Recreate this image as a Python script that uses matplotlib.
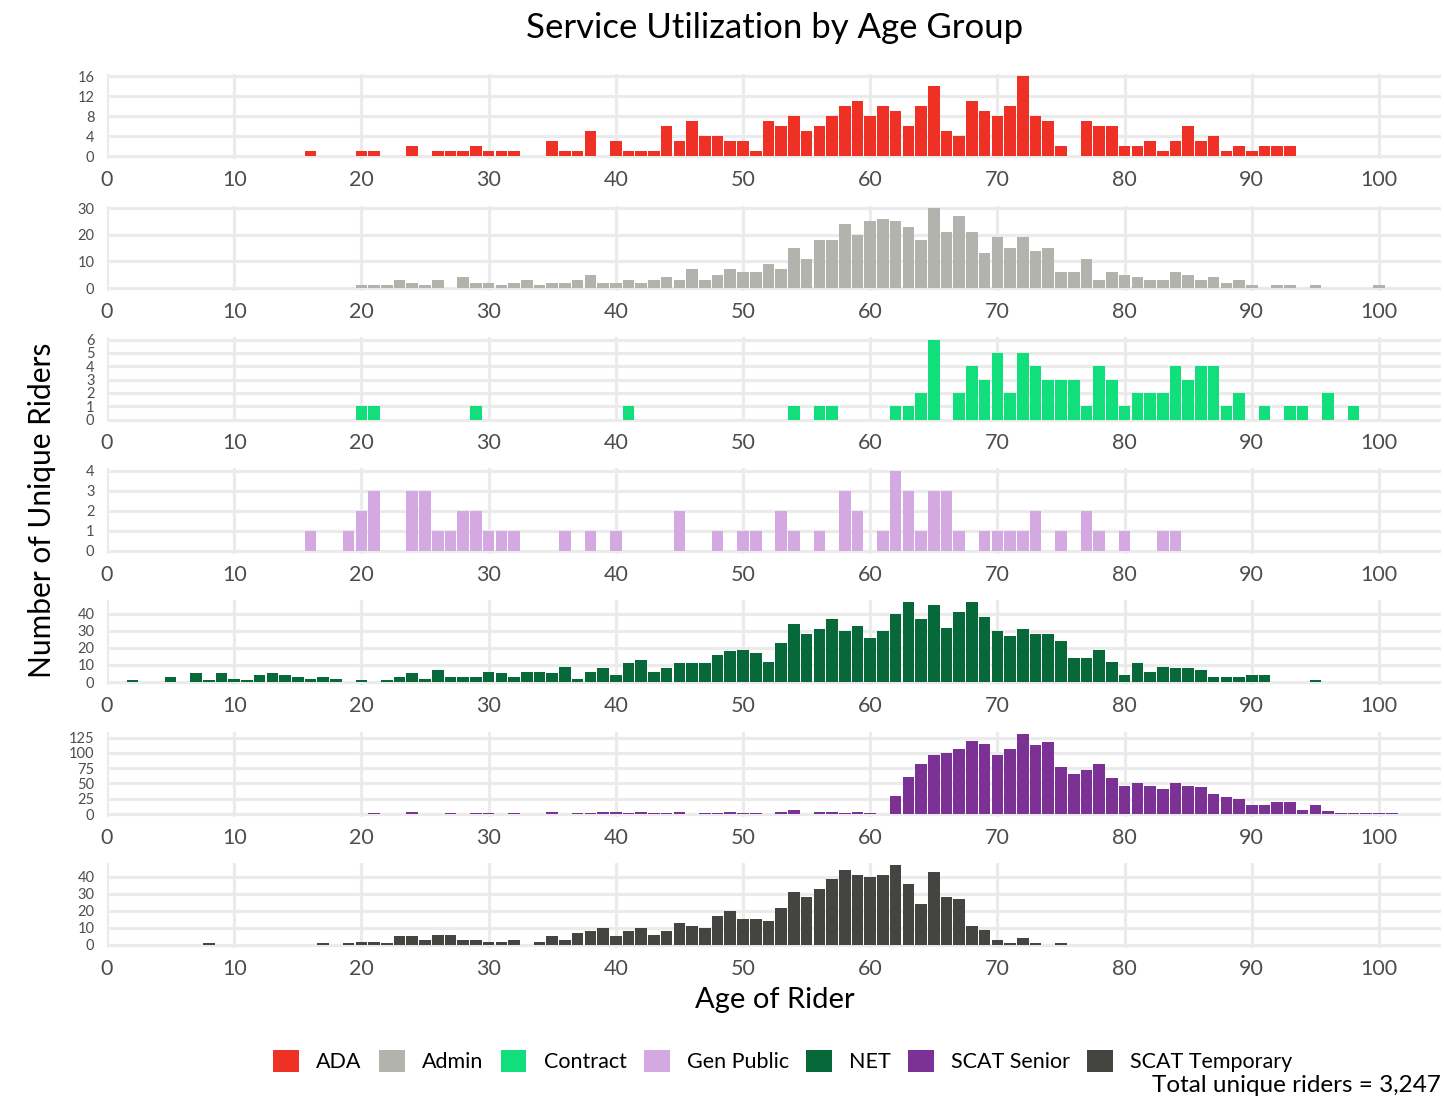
import matplotlib
matplotlib.use("Agg")
import matplotlib.pyplot as plt
from matplotlib.patches import Patch

plt.rcParams['font.family'] = ['Lato', 'DejaVu Sans']

# ---- data: unique riders per age, one pair of lists per service type ----
groups = ["ADA", "Admin", "Contract", "Gen Public", "NET", "SCAT Senior", "SCAT Temporary"]
colors = ["#EE3124", "#B3B3AD", "#11DF7B", "#D4A8E0", "#07693A", "#7B3294", "#444440"]

ada_ages = [16, 20, 21, 24, 26, 27, 28, 29, 30, 31, 32, 35, 36, 37, 38,
            40, 41, 42, 43, 44, 45, 46, 47, 48, 49, 50, 51, 52, 53, 54, 55, 56, 57,
            58, 59, 60, 61, 62, 63, 64, 65, 66, 67, 68, 69, 70, 71, 72, 73, 74, 75,
            77, 78, 79, 80, 81, 82, 83, 84, 85, 86, 87, 88, 89, 90, 91, 92, 93]
ada_riders = [1, 1, 1, 2, 1, 1, 1, 2, 1, 1, 1, 3, 1, 1, 5,
              3, 1, 1, 1, 6, 3, 7, 4, 4, 3, 3, 1, 7, 6, 8, 5, 6, 8,
              10, 11, 8, 10, 9, 6, 10, 14, 5, 4, 11, 9, 8, 10, 16, 8, 7, 2,
              7, 6, 6, 2, 2, 3, 1, 3, 6, 3, 4, 1, 2, 1, 2, 2, 2]

admin_ages = [20, 21, 22, 23, 24, 25, 26,
              28, 29, 30, 31, 32, 33, 34, 35, 36, 37,
              38, 39, 40, 41, 42, 43, 44, 45, 46, 47,
              48, 49, 50, 51, 52, 53, 54, 55, 56, 57,
              58, 59, 60, 61, 62, 63, 64, 65, 66, 67,
              68, 69, 70, 71, 72, 73, 74, 75, 76, 77,
              78, 79, 80, 81, 82, 83, 84, 85, 86, 87,
              88, 89, 90, 92, 93, 95, 100]
admin_riders = [1, 1, 1, 3, 2, 1, 3,
                4, 2, 2, 1, 2, 3, 1, 2, 2, 3,
                5, 2, 2, 3, 2, 3, 4, 3, 7, 3,
                5, 7, 6, 6, 9, 7, 15, 11, 18, 18,
                24, 20, 25, 26, 25, 23, 18, 30, 21, 27,
                21, 13, 19, 15, 19, 14, 15, 6, 6, 11,
                3, 6, 5, 4, 3, 3, 6, 5, 3, 4,
                2, 3, 1, 1, 1, 1, 1]

contract_ages = [20, 21, 29, 41, 54, 56, 57, 62, 63, 64, 65,
                 67, 68, 69, 70, 71, 72, 73, 74, 75, 76, 77, 78,
                 79, 80, 81, 82, 83, 84, 85, 86, 87, 88, 89,
                 91, 93, 94, 96, 98]
contract_riders = [1, 1, 1, 1, 1, 1, 1, 1, 1, 2, 6,
                   2, 4, 3, 5, 2, 5, 4, 3, 3, 3, 1, 4,
                   3, 1, 2, 2, 2, 4, 3, 4, 4, 1, 2,
                   1, 1, 1, 2, 1]

genpub_ages = [16, 19, 20, 21, 24, 25, 26, 27, 28, 29, 30, 31, 32,
               36, 38, 40, 45, 48, 50, 51, 53, 54, 56, 58, 59,
               61, 62, 63, 64, 65, 66, 67, 69, 70, 71, 72, 73,
               75, 77, 78, 80, 83, 84]
genpub_riders = [1, 1, 2, 3, 3, 3, 1, 1, 2, 2, 1, 1, 1,
                 1, 1, 1, 2, 1, 1, 1, 2, 1, 1, 3, 2,
                 1, 4, 3, 1, 3, 3, 1, 1, 1, 1, 1, 2,
                 1, 2, 1, 1, 1, 1]

net_ages = [2, 5, 7, 8, 9, 10, 11, 12, 13, 14, 15, 16, 17, 18, 20,
            22, 23, 24, 25, 26, 27, 28, 29, 30, 31,
            32, 33, 34, 35, 36, 37, 38, 39, 40, 41,
            42, 43, 44, 45, 46, 47, 48, 49, 50, 51,
            52, 53, 54, 55, 56, 57, 58, 59, 60, 61,
            62, 63, 64, 65, 66, 67, 68, 69, 70, 71,
            72, 73, 74, 75, 76, 77, 78, 79, 80, 81,
            82, 83, 84, 85, 86, 87, 88, 89, 90, 91, 95]
net_riders = [1, 3, 5, 1, 5, 2, 1, 4, 5, 4, 3, 2, 3, 2, 1,
              1, 3, 5, 2, 7, 3, 3, 3, 6, 5,
              3, 6, 6, 5, 9, 2, 6, 8, 4, 11,
              13, 6, 8, 11, 11, 11, 16, 18, 19, 17,
              12, 23, 34, 28, 31, 37, 30, 33, 26, 30,
              40, 47, 37, 45, 32, 41, 47, 38, 30, 27,
              31, 28, 28, 24, 14, 14, 19, 12, 4, 11,
              6, 9, 8, 8, 7, 3, 3, 3, 4, 4, 1]

senior_ages = [21, 24, 27, 29, 30, 32, 35, 37, 38, 39, 40, 41, 42, 43, 44, 45,
               47, 48, 49, 50, 51, 53, 54, 56, 57, 58, 59, 60,
               62, 63, 64, 65, 66, 67, 68, 69, 70, 71,
               72, 73, 74, 75, 76, 77, 78, 79, 80, 81,
               82, 83, 84, 85, 86, 87, 88, 89, 90, 91,
               92, 93, 94, 95, 96, 97, 98, 99, 100, 101]
senior_riders = [1, 3, 1, 1, 1, 1, 3, 1, 1, 3, 3, 1, 3, 1, 1, 3,
                 1, 1, 3, 1, 1, 3, 6, 3, 3, 1, 3, 1,
                 30, 61, 82, 97, 100, 107, 120, 115, 97, 107,
                 131, 113, 118, 77, 66, 72, 82, 59, 46, 51,
                 46, 41, 51, 46, 45, 32, 28, 25, 15, 15,
                 19, 19, 7, 14, 5, 1, 1, 2, 2, 1]

temp_ages = [8, 17, 19, 20, 21, 22, 23, 24, 25, 26, 27, 28, 29, 30, 31, 32,
             34, 35, 36, 37, 38, 39, 40, 41, 42, 43,
             44, 45, 46, 47, 48, 49, 50, 51, 52, 53,
             54, 55, 56, 57, 58, 59, 60, 61, 62, 63,
             64, 65, 66, 67, 68, 69, 70, 71, 72, 73, 75]
temp_riders = [1, 1, 1, 2, 2, 1, 5, 5, 3, 6, 6, 3, 3, 2, 2, 3,
               2, 5, 3, 7, 8, 10, 5, 8, 10, 6,
               8, 13, 11, 10, 17, 20, 15, 15, 14, 22,
               31, 28, 33, 39, 44, 41, 40, 41, 47, 36,
               24, 43, 28, 27, 11, 9, 3, 1, 4, 1, 1]

series_ages = [ada_ages, admin_ages, contract_ages, genpub_ages, net_ages, senior_ages, temp_ages]
series_riders = [ada_riders, admin_riders, contract_riders, genpub_riders,
                 net_riders, senior_riders, temp_riders]

y_ticks = [[0, 4, 8, 12, 16], [0, 10, 20, 30], [0, 1, 2, 3, 4, 5, 6], [0, 1, 2, 3, 4],
           [0, 10, 20, 30, 40], [0, 25, 50, 75, 100, 125], [0, 10, 20, 30, 40]]
x_ticks = [0, 10, 20, 30, 40, 50, 60, 70, 80, 90, 100]

title = "Service Utilization by Age Group"
x_title = "Age of Rider"
y_title = "Number of Unique Riders"
caption = "Total unique riders = 3,247"

# ---- layout (pixels) ----
W, H = 1444, 1098
fig = plt.figure(figsize=(W / 100, H / 100), dpi=100)
fig.patch.set_facecolor("white")

left_px, right_px = 107, 1441
year_px = 12.72
panel_h = 80.0
pad_px = 2.5
baselines = [156, 288, 419.5, 551, 682, 814, 945]
grid_col = "#EBEBEB"
tick_col = "#4D4D4D"
bar_width = 1 - 1.1 / year_px   # leaves a thin white gap between neighbouring bars


def add_px_axes(x0, y_top, w, h):
    return fig.add_axes([x0 / W, 1 - (y_top + h) / H, w / W, h / H])


for i, (ages, riders) in enumerate(zip(series_ages, series_riders)):
    base = baselines[i]
    top = base - panel_h
    ax = add_px_axes(left_px, top - pad_px, right_px - left_px, panel_h + 2 * pad_px)
    ymax = max(riders)
    unit = ymax / panel_h
    ax.set_ylim(-pad_px * unit, ymax + pad_px * unit)
    ax.set_xlim(0, (right_px - left_px) / year_px)
    ax.bar(ages, riders, width=bar_width, color=colors[i], linewidth=0, zorder=2)
    ax.set_xticks(x_ticks)
    ax.set_yticks(y_ticks[i])
    ax.grid(True, color=grid_col, linewidth=2.3, zorder=0)
    ax.set_axisbelow(True)
    for s in ax.spines.values():
        s.set_visible(False)
    ax.tick_params(axis="x", length=0, pad=8, labelsize=15.5, labelcolor=tick_col)
    ax.tick_params(axis="y", length=0, pad=9, labelsize=10.5, labelcolor=tick_col)

fig.text(775 / W, 1 - 28 / H, title, ha="center", va="center", fontsize=25, color="black")
fig.text(775 / W, 1 - 1000 / H, x_title, ha="center", va="center", fontsize=21, color="black")
fig.text(42 / W, 1 - 510 / H, y_title, ha="center", va="center", rotation=90,
         fontsize=21.5, color="black")

handles = [Patch(facecolor=c, edgecolor="none", label=g) for g, c in zip(groups, colors)]
fig.legend(handles=handles, loc="center", bbox_to_anchor=(783 / W, 1 - 1061 / H),
           ncol=len(groups), frameon=False, fontsize=15.5, handlelength=1.2,
           handleheight=1.2, handletextpad=0.8, columnspacing=0.8, borderpad=0)
fig.text(1441 / W, 1 - 1086 / H, caption, ha="right", va="center", fontsize=17.5, color="black")

fig.savefig("out.png", dpi=100, facecolor="white")
